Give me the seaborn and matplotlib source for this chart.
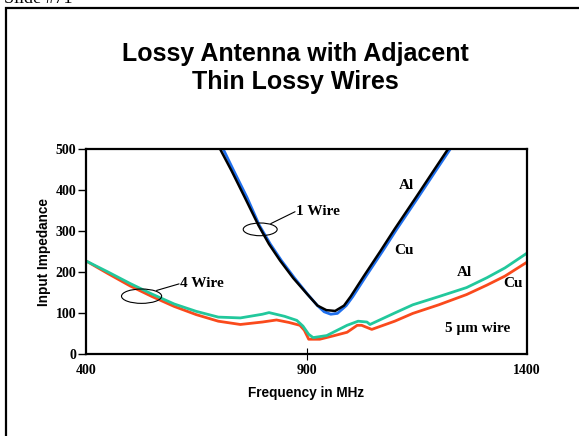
import numpy as np
import pandas as pd
import matplotlib
matplotlib.use("Agg")
import matplotlib.pyplot as plt
from matplotlib.patches import Ellipse, Rectangle
import seaborn as sns

# 4-wire curves (Al = green, Cu = red)
freq_4w_al = [400, 450, 500, 550, 600, 650, 700, 750, 800, 815, 850, 878, 892, 905, 915,
              946, 992, 1017, 1037, 1044, 1100, 1141, 1200, 1263, 1309, 1350, 1400]
imp_4w_al = [227, 200, 172, 146, 122, 104, 90, 88, 97, 101, 92, 82, 68, 48, 40,
             45, 70, 80, 78, 72, 100, 120, 140, 162, 186, 210, 246]

freq_4w_cu = [400, 450, 500, 550, 600, 650, 700, 750, 800, 832, 860, 885, 895, 905, 930,
              960, 992, 1015, 1025, 1048, 1100, 1141, 1200, 1263, 1309, 1350, 1400]
imp_4w_cu = [227, 196, 166, 140, 116, 96, 80, 72, 78, 83, 77, 70, 58, 36, 36,
             44, 53, 70, 70, 60, 80, 99, 120, 145, 168, 190, 224]

# 1-wire curves (Al = black, Cu = blue)
freq_1w_al = [704, 730, 760, 791, 815, 840, 870, 900, 925, 945, 965, 985,
              1000, 1030, 1067, 1100, 1150, 1190, 1221]
imp_1w_al = [500, 447, 382, 314, 268, 228, 185, 148, 118, 107, 105, 118,
             140, 190, 250, 305, 385, 450, 500]

freq_1w_cu = [711, 735, 765, 793, 818, 843, 873, 903, 925, 940, 955, 970, 990,
              1005, 1035, 1072, 1105, 1155, 1195, 1226]
imp_1w_cu = [500, 447, 382, 314, 268, 228, 185, 145, 118, 103, 97, 99, 118,
             140, 190, 250, 305, 385, 450, 500]

x_ticks = [400, 900, 1400]
y_ticks = [0, 100, 200, 300, 400, 500]

GREEN = "#22c89c"
RED = "#fa4a1c"
BLUE = "#2070ee"
BLACK = "#000000"

sns.set_style("white")
plt.rcParams["font.family"] = ["Liberation Serif", "DejaVu Serif"]
plt.rcParams["text.color"] = "black"
plt.rcParams["axes.labelcolor"] = "black"
plt.rcParams["xtick.color"] = "black"
plt.rcParams["ytick.color"] = "black"

SANS = ["Liberation Sans", "DejaVu Sans"]

fig = plt.figure(figsize=(5.79, 4.36), dpi=100)
ax = fig.add_axes([86 / 579, 1 - 354 / 436, (527 - 86) / 579, (354 - 149) / 436])

lw = 2.0
sns.lineplot(x=freq_4w_cu, y=imp_4w_cu, color=RED, linewidth=lw, ax=ax)
sns.lineplot(x=freq_4w_al, y=imp_4w_al, color=GREEN, linewidth=lw, ax=ax)
sns.lineplot(x=freq_1w_cu, y=imp_1w_cu, color=BLUE, linewidth=lw, ax=ax)
sns.lineplot(x=freq_1w_al, y=imp_1w_al, color=BLACK, linewidth=1.8, ax=ax)

ax.set_xlim(400, 1400)
ax.set_ylim(0, 500)
ax.set_xticks(x_ticks)
ax.set_yticks(y_ticks)
ax.set_xticklabels([str(t) for t in x_ticks], fontsize=10, fontweight="bold")
ax.set_yticklabels([str(t) for t in y_ticks], fontsize=10, fontweight="bold")
ax.tick_params(axis="y", direction="out", length=6, width=1, pad=1, colors="black", left=True)
ax.tick_params(axis="x", direction="inout", length=8, width=0.8, pad=3, colors="black", bottom=True)
ticks = ax.xaxis.get_major_ticks()
ticks[0].tick1line.set_visible(False)
ticks[-1].tick1line.set_visible(False)

for s in ax.spines.values():
    s.set_linewidth(1.6)
    s.set_color("black")

ax.set_xlabel("Frequency in MHz", fontsize=9.8, fontweight="bold", family=SANS,
              color="black", labelpad=7)
ax.set_ylabel("Input Impedance", fontsize=9.8, fontweight="bold", family=SANS,
              color="black", labelpad=3)

# annotations
tk = dict(fontsize=11, fontweight="bold", color="black", va="center")
ax.text(1126, 410, "Al", ha="center", **tk)
ax.text(1121, 253, "Cu", ha="center", **tk)
ax.text(1259, 198, "Al", ha="center", **tk)
ax.text(1368, 171, "Cu", ha="center", **tk)
ax.text(1289, 63, "5 \u03bcm wire", ha="center", **tk)
ax.text(876, 348, "1 Wire", ha="left", **tk)
ax.text(613, 172, "4 Wire", ha="left", **tk)

ax.add_patch(Ellipse((795, 304), 77, 31, fill=False, edgecolor="black", linewidth=0.8, zorder=5))
ax.plot([819, 874], [318, 347], color="black", linewidth=0.8)
ax.add_patch(Ellipse((526, 141), 91, 35, fill=False, edgecolor="black", linewidth=0.8, zorder=5))
ax.plot([560, 611], [155, 171], color="black", linewidth=0.8)

# slide frame and header (header is clipped at the top, as in the slide)
fig.patches.append(Rectangle((6 / 579, -0.1), 1.2, 1 - 8 / 436 + 0.1, transform=fig.transFigure,
                             fill=False, edgecolor="black", linewidth=1.6, clip_on=False))
fig.text(4 / 579, 1 - 3 / 436, "Slide #71", fontsize=13, ha="left", va="baseline", color="black")

fig.text(295 / 579, 1 - 68 / 436, "Lossy Antenna with Adjacent\nThin Lossy Wires",
         fontsize=18, fontweight="bold", ha="center", va="center", linespacing=1.2,
         family=SANS, color="black")

fig.savefig("out.png", dpi=100)
